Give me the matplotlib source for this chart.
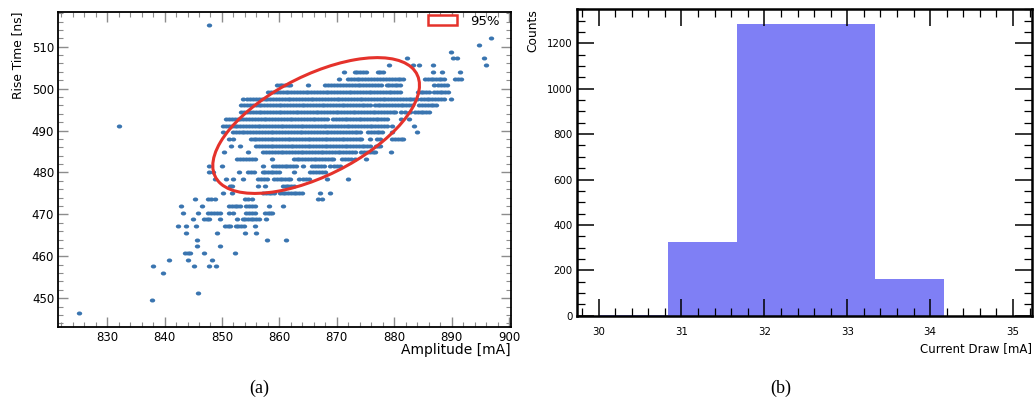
import numpy as np
import matplotlib
matplotlib.use("Agg")
import matplotlib.pyplot as plt
from matplotlib.patches import Ellipse, Patch
from matplotlib.path import Path
from matplotlib.markers import MarkerStyle
from matplotlib.transforms import Affine2D
from matplotlib.ticker import MultipleLocator

# ---- panel (a): rise time vs amplitude ----
# rise time is quantised in rows; each row lists the amplitudes that are hit,
# a number is a single event, a (lo, hi) pair is a run of adjacent ADC bins
adc_step = 0.5
row_rise_time = [515.2, 512.0, 510.4, 508.8, 507.2, 505.6, 504.0, 502.4, 500.8,
                 499.2, 497.6, 496.0, 494.4, 492.8, 491.2, 489.6, 488.0, 486.4,
                 484.8, 483.2, 481.6, 480.0, 478.4, 476.8, 475.2, 473.6, 472.0,
                 470.4, 468.8, 467.2, 465.6, 464.0, 462.4, 460.8, 459.2, 457.6,
                 456.0, 451.2, 449.6, 446.4]
row_amplitude = [
    [847.8],
    [896.8],
    [894.8],
    [889.9],
    [882.3, (890.2, 890.9), 895.7],
    [879.1, 883.2, 884.4, 886.7, 896.0],
    [871.2, (873.1, 875.0), (877.2, 878.0), 886.7, 888.4, 891.5],
    [870.4, (871.9, 881.6), (885.4, 888.7), (890.5, 891.6)],
    [(859.6, 861.9), 864.9, (868.0, 877.7), (878.7, 881.0), (887.0, 889.2)],
    [(858.1, 881.0), (884.2, 886.0), (887.0, 889.3)],
    [(853.6, 854.3), (854.9, 884.0), (884.6, 888.7), 889.9],
    [(853.4, 875.8), (876.6, 883.1), (884.4, 887.3)],
    [(853.4, 880.2), 881.2, 881.9, 882.8, (883.7, 886.0)],
    [(850.7, 868.3), (869.4, 878.7), 881.2, 882.5],
    [832.0, (850.2, 878.7), 879.7, 883.5],
    [850.2, (851.9, 874.1), (875.5, 877.9), 879.6, 884.0],
    [851.3, 852.0, (855.0, 874.3), 875.7, (877.0, 877.6), (879.6, 881.6)],
    [851.6, 853.1, (856.0, 875.8), (876.8, 877.6)],
    [850.4, 854.5, (857.2, 865.7), (866.2, 873.1), (874.3, 876.7), 879.4],
    [(852.6, 855.8), 858.7, (862.5, 869.4), (870.9, 873.1), 875.0],
    [847.8, 850.0, 857.1, (858.9, 862.9), 864.2, (865.7, 867.7), (868.9, 870.6)],
    [847.8, 848.5, 852.9, (854.6, 855.5), (857.1, 859.9), 862.5, (865.4, 868.0)],
    [848.8, 850.7, 852.0, 853.6, (856.2, 857.8), (859.1, 861.9), (863.5, 865.1), 868.3, 872.0],
    [851.4, 851.8, 856.2, 857.5, (860.6, 862.5)],
    [850.2, 851.8, (857.2, 859.1), (860.1, 863.9), 867.0, 868.8],
    [845.3, (847.6, 848.7), (854.0, 855.2), (866.7, 867.4)],
    [842.9, 846.6, (851.3, 853.1), (854.2, 855.8), 858.2, 860.6],
    [843.3, 845.8, (847.5, 849.7), (851.3, 852.0), (854.2, 855.8), (857.5, 858.8)],
    [844.9, (846.9, 847.8), 849.7, 852.7, (853.6, 856.4), 857.6],
    [842.4, 843.8, 845.4, (850.6, 851.4), (852.4, 853.8), 855.8],
    [843.8, 849.1, 854.0, 855.9],
    [845.6, 857.8, 861.1],
    [845.7, 849.7],
    [(843.6, 844.5), 846.9, 852.3],
    [840.7, 844.0, 848.2],
    [838.0, 845.2, 847.7, 849.0],
    [839.8],
    [845.9],
    [837.8],
    [825.1],
]

# 95% contour: centre and covariance (mA^2, mA*ns, ns^2)
ellipse_center = (866.4, 491.2)
ellipse_sxx = 324.0
ellipse_syy = 262.4
ellipse_sxy = 172.8

# ---- panel (b): current draw histogram ----
bin_edges = [30.0, 30.833, 31.667, 32.5, 33.333, 34.167]
bin_counts = [4, 325, 1284, 1287, 160]

plt.rcParams['font.family'] = ['DejaVu Sans']

amp = []
rise = []
for rt, entries in zip(row_rise_time, row_amplitude):
    for e in entries:
        if isinstance(e, tuple):
            n = int(round((e[1] - e[0]) / adc_step)) + 1
            xs = np.linspace(e[0], e[1], n)
        else:
            xs = [e]
        amp.extend(xs)
        rise.extend([rt] * len(xs))

fig = plt.figure(figsize=(10.36, 4.03), dpi=100)

# panel (a)
ax1 = fig.add_axes([0.0563, 0.1893, 0.437, 0.7816])
dot = MarkerStyle(Path.unit_circle().transformed(Affine2D().scale(1.0, 0.75)))
ax1.scatter(amp, rise, s=15, marker=dot, color='#3a75b0', linewidths=0, zorder=2)

cov = np.array([[ellipse_sxx, ellipse_sxy], [ellipse_sxy, ellipse_syy]])
vals, vecs = np.linalg.eigh(cov)
angle = np.degrees(np.arctan2(vecs[1, 1], vecs[0, 1]))
ell = Ellipse(ellipse_center, 2 * np.sqrt(vals[1]), 2 * np.sqrt(vals[0]), angle=angle,
              fill=False, edgecolor='#e5322b', linewidth=2.2, zorder=3)
ax1.add_patch(ell)

ax1.set_xlim(821.5, 900.35)
ax1.set_ylim(443.2, 518.35)
ax1.xaxis.set_major_locator(MultipleLocator(10))
ax1.xaxis.set_minor_locator(MultipleLocator(2))
ax1.yaxis.set_major_locator(MultipleLocator(10))
ax1.yaxis.set_minor_locator(MultipleLocator(2))
ax1.tick_params(which='both', direction='in', top=True, right=True, color='#8c8c8c',
                labelsize=8.5, pad=3)
ax1.tick_params(which='major', length=7, width=1)
ax1.tick_params(which='minor', length=3.5, width=0.8)
for sp in ax1.spines.values():
    sp.set_linewidth(1.3)

ax1.set_xlabel('Amplitude [mA]', loc='right', fontsize=10)
ax1.xaxis.set_label_coords(1.0, -0.052)
ax1.set_ylabel('Rise Time [ns]', loc='top', fontsize=8.8)
ax1.yaxis.set_label_coords(-0.076, 1.0)

leg_handle = Patch(facecolor='white', edgecolor='#e5322b', linewidth=1.8)
ax1.legend([leg_handle], ['95%'], loc='upper right', bbox_to_anchor=(0.975, 0.99),
           frameon=False, fontsize=9.5, borderpad=0, borderaxespad=0,
           handlelength=2.2, handleheight=0.8, handletextpad=1.0)

# panel (b)
ax2 = fig.add_axes([0.557, 0.2166, 0.4392, 0.7603])
ax2.stairs(bin_counts, bin_edges, fill=True, color='#7f7ff5', linewidth=0)
ax2.set_xlim(29.74, 35.23)
ax2.set_ylim(0, 1350)
ax2.xaxis.set_major_locator(MultipleLocator(1))
ax2.xaxis.set_minor_locator(MultipleLocator(0.2))
ax2.yaxis.set_major_locator(MultipleLocator(200))
ax2.yaxis.set_minor_locator(MultipleLocator(50))
ax2.tick_params(which='both', direction='in', top=True, right=True, color='black',
                labelsize=7.4)
ax2.tick_params(axis='x', which='major', pad=8)
ax2.tick_params(axis='y', which='major', pad=3)
ax2.tick_params(which='major', length=12, width=1.1)
ax2.tick_params(which='minor', length=5.5, width=0.9)
for sp in ax2.spines.values():
    sp.set_linewidth(1.8)

ax2.set_xlabel('Current Draw [mA]', loc='right', fontsize=8.5)
ax2.xaxis.set_label_coords(1.0, -0.085)
ax2.set_ylabel('Counts', loc='top', fontsize=8.8)
ax2.yaxis.set_label_coords(-0.083, 1.0)

fig.text(259 / 1036, 1 - 388 / 403, '(a)', family='Liberation Serif', fontsize=13,
         ha='center', va='center')
fig.text(781 / 1036, 1 - 388 / 403, '(b)', family='Liberation Serif', fontsize=13,
         ha='center', va='center')

fig.savefig('out.png', dpi=100)
